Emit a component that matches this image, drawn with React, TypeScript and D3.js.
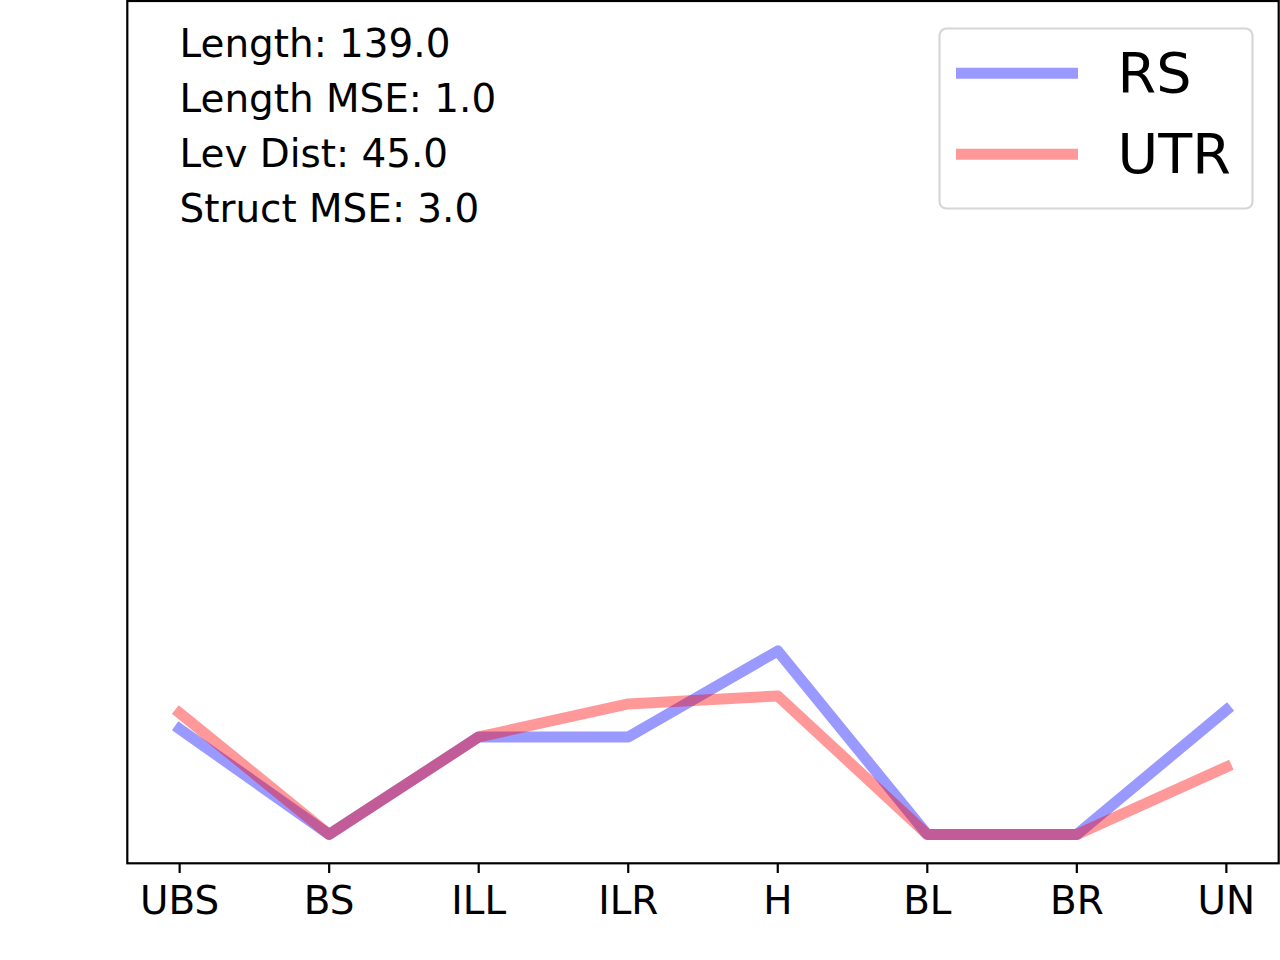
import React from 'react';
import { scaleLinear, scalePoint, line } from 'd3';

const categories = ['UBS', 'BS', 'ILL', 'ILR', 'H', 'BL', 'BR', 'UN'];
const rsValues = [0.1266, 0, 0.117, 0.117, 0.2202, 0, 0, 0.1494];
const utrValues = [0.1458, 0, 0.117, 0.1566, 0.1662, 0, 0, 0.081];
const statLines = ['Length: 139.0', 'Length MSE: 1.0', 'Lev Dist: 45.0', 'Struct MSE: 3.0'];
const seriesNames = ['RS', 'UTR'];
const seriesColors = ['rgba(0,0,255,0.4)', 'rgba(255,0,0,0.4)'];

const W = 1280;
const H = 960;
const left = 127.3;
const right = 1278.7;
const top = 1;
const bottom = 863.3;
const font = '"DejaVu Sans", sans-serif';

const App: React.FC = () => {
  // x: category positions with matplotlib's 5% margins
  const span = right - left;
  const pad = (span / 1.1) * 0.05;
  const xScale = scalePoint<string>()
    .domain(categories)
    .range([left + pad, right - pad]);
  const yScale = scaleLinear().domain([-0.0346, 1]).range([bottom, top]);

  const lineGen = line<number>()
    .x((_, i) => xScale(categories[i]) as number)
    .y((d) => yScale(d));

  const series = [rsValues, utrValues];

  return (
    <svg
      width={W}
      height={H}
      style={{ position: 'absolute', left: 0, top: 0, background: '#fff' }}
      fontFamily={font}
    >
      <rect x={0} y={0} width={W} height={H} fill="#fff" />

      {/* lines: RS first, UTR on top */}
      {series.map((vals, i) => (
        <path
          key={seriesNames[i]}
          d={lineGen(vals) || ''}
          fill="none"
          stroke={seriesColors[i]}
          strokeWidth={11}
          strokeLinejoin="round"
          strokeLinecap="square"
        />
      ))}

      {/* spines */}
      <rect
        x={left}
        y={top}
        width={right - left}
        height={bottom - top}
        fill="none"
        stroke="#000"
        strokeWidth={2.2}
      />

      {/* x ticks */}
      {categories.map((c) => (
        <g key={c} transform={`translate(${xScale(c)},0)`}>
          <line y1={bottom} y2={bottom + 9.7} stroke="#000" strokeWidth={2.2} />
          <text y={913.5} textAnchor="middle" fontSize={38.9} fill="#000">
            {c}
          </text>
        </g>
      ))}

      {/* stats text */}
      {statLines.map((t, i) => (
        <text key={t} x={179.5} y={56.7 + i * 55} fontSize={38.9} fill="#000">
          {t}
        </text>
      ))}

      {/* legend */}
      <rect
        x={939.5}
        y={28.5}
        width={313}
        height={180}
        rx={7}
        ry={7}
        fill="rgba(255,255,255,0.8)"
        stroke="#d6d6d6"
        strokeWidth={2.2}
      />
      {seriesNames.map((n, i) => (
        <g key={n}>
          <line
            x1={961.5}
            x2={1072.5}
            y1={73.3 + i * 81}
            y2={73.3 + i * 81}
            stroke={seriesColors[i]}
            strokeWidth={11}
            strokeLinecap="square"
          />
          <text x={1117.5} y={91.7 + i * 81.6} fontSize={55.6} fill="#000">
            {n}
          </text>
        </g>
      ))}
    </svg>
  );
};

export default App;
